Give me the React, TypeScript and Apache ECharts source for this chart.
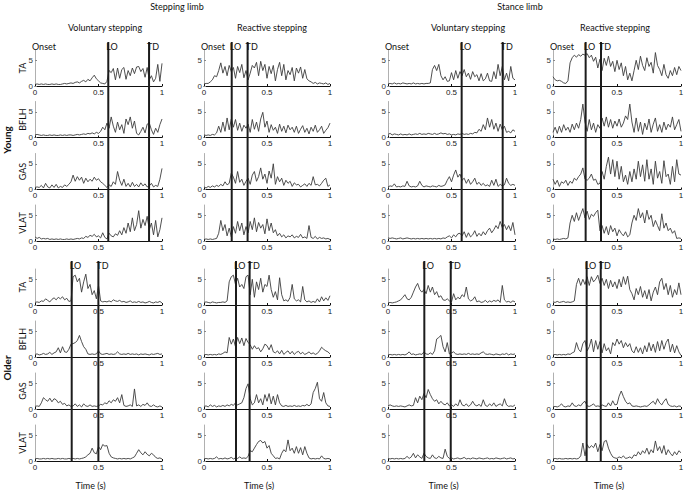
import React, { useEffect, useRef } from 'react';
import * as echarts from 'echarts';

// ---------- text ----------
const limbTitles = ['Stepping limb', 'Stance limb'];
const conditionTitles = ['Voluntary stepping', 'Reactive stepping', 'Voluntary stepping', 'Reactive stepping'];
const groupNames = ['Young', 'Older'];
const muscleNames = ['TA', 'BFLH', 'GAS', 'VLAT'];
const timeTicks = [0, 0.5, 1];
const emgTicks = [0, 5];
const timeLabel = 'Time (s)';

// sample times (s) for the 61 read-off points of every trace
const sampleTimes = Array.from({ length: 61 }, (_, i) => i / 60);

// ---------- Young, stepping limb, voluntary ----------
const youngVolStepTA = [0.3,0.4,0.3,0.4,0.3,0.4,0.3,0.3,0.4,0.3,0.4,0.3,0.3,0.4,0.5,0.4,0.5,0.6,0.5,0.7,0.8,0.6,0.9,1.1,0.8,1.3,1.0,1.6,2.1,1.4,1.0,0.6,0.5,0.4,0.9,3.0,2.6,3.4,1.2,3.5,1.5,3.2,3.6,1.3,3.0,2.0,3.5,2.4,3.7,3.8,2.8,3.4,1.7,3.6,1.2,2.0,0.8,1.5,4.2,0.9,4.4];
const youngVolStepBFLH = [0.5,0.6,0.5,0.4,0.5,0.4,0.4,0.5,0.4,0.5,0.4,0.4,0.5,0.4,0.5,0.4,0.5,0.5,0.4,0.5,0.6,0.5,0.6,0.7,0.6,0.8,0.7,0.9,0.7,1.0,0.8,1.2,2.0,1.5,2.8,1.8,4.0,2.2,1.0,3.0,1.5,2.5,0.8,3.6,2.5,4.0,1.8,3.2,0.8,0.5,1.2,2.0,0.9,2.6,2.8,1.5,0.6,1.8,1.0,2.5,3.6];
const youngVolStepGAS = [0.4,0.5,0.4,0.8,0.3,1.2,0.5,0.3,0.9,0.4,1.0,0.3,0.6,0.4,0.9,0.6,1.0,1.5,2.8,1.6,2.5,1.8,2.4,1.2,2.2,1.5,2.0,1.6,2.4,1.8,2.1,1.5,1.2,0.8,0.4,0.9,0.6,1.5,1.0,3.5,1.8,0.8,2.0,0.6,1.2,0.5,1.4,0.6,1.0,0.5,1.3,0.7,1.1,0.5,0.7,1.2,0.5,0.8,0.6,2.0,4.1];
const youngVolStepVLAT = [0.8,0.5,0.7,0.4,0.5,0.4,0.5,0.3,0.4,0.3,0.4,0.3,0.4,0.3,0.3,0.4,0.3,0.4,0.3,0.4,0.5,0.4,0.6,0.5,0.9,0.7,1.1,0.9,1.3,0.8,1.0,0.6,1.6,0.7,0.4,1.5,1.0,0.8,1.4,1.1,2.0,1.2,2.6,1.5,3.5,1.8,4.5,2.0,3.2,5.9,2.5,4.2,3.0,4.8,2.2,3.5,1.2,4.0,0.8,2.2,4.5];

// ---------- Young, stepping limb, reactive ----------
const youngReaStepTA = [0.4,0.5,0.5,0.8,1.2,2.0,1.8,3.0,4.5,2.5,3.8,2.0,4.0,2.8,3.6,1.5,3.8,2.6,4.2,1.6,3.0,1.2,2.5,4.0,3.5,4.6,2.0,4.8,3.0,4.2,1.5,3.8,2.4,4.0,1.0,3.2,4.6,2.0,4.2,1.2,3.0,2.2,3.6,1.0,3.5,2.5,3.7,1.5,3.2,1.4,1.0,0.8,0.5,0.7,0.4,0.6,0.5,0.4,0.6,0.3,0.5];
const youngReaStepBFLH = [0.5,0.4,0.5,0.4,0.6,0.5,0.9,2.2,1.0,3.0,1.2,3.8,1.5,3.6,2.0,3.5,1.4,2.8,1.2,2.4,1.8,2.6,1.0,3.5,1.6,3.0,1.2,3.6,4.9,2.0,3.2,1.0,2.5,1.4,2.0,0.8,2.6,1.2,2.2,0.9,2.4,1.5,2.0,1.0,2.2,0.8,1.6,2.3,1.0,1.8,0.7,2.0,1.2,2.4,1.0,1.5,2.2,0.8,1.4,1.9,2.8];
const youngReaStepGAS = [0.5,0.3,0.6,0.4,0.7,0.5,0.8,0.6,1.0,0.7,1.5,0.9,1.2,3.2,2.4,1.2,3.5,1.4,2.0,0.8,1.6,2.2,1.0,2.8,3.5,1.6,2.5,4.2,2.0,3.0,1.2,3.6,2.2,5.0,1.0,2.5,1.5,2.2,0.8,1.8,1.2,1.6,0.6,1.3,0.9,1.0,0.5,0.8,1.1,0.6,1.2,0.8,2.5,0.9,1.0,0.7,1.2,1.8,2.2,0.6,0.9];
const youngReaStepVLAT = [0.3,0.4,0.3,0.4,0.3,0.4,0.5,1.5,4.0,2.0,3.2,1.0,2.5,0.8,2.8,1.5,3.8,2.0,3.5,1.2,2.8,1.6,3.8,2.2,4.5,1.8,3.6,2.5,3.2,1.4,4.3,2.0,3.5,1.6,2.2,1.0,1.5,0.8,1.2,0.6,1.0,0.8,1.2,0.6,0.9,0.7,1.3,0.6,0.8,0.5,3.0,0.7,0.5,0.9,0.4,0.7,0.5,0.6,0.4,0.5,0.3];

// ---------- Young, stance limb, voluntary ----------
const youngVolStanceTA = [0.4,0.5,0.4,0.6,0.4,0.5,0.4,0.6,0.5,0.4,0.5,0.4,0.6,0.4,0.5,0.4,0.5,0.4,0.5,0.5,0.6,3.2,4.0,3.0,4.2,2.0,1.2,1.8,0.9,1.0,2.6,1.2,3.0,1.5,2.8,2.0,3.2,1.8,2.5,1.3,2.8,1.8,2.2,1.0,2.4,1.0,1.4,2.5,1.0,0.9,2.8,1.4,4.2,2.0,3.8,1.2,2.5,1.0,3.8,1.5,1.2];
const youngVolStanceBFLH = [0.6,0.8,0.5,0.7,0.6,0.5,0.7,0.5,0.6,0.5,0.7,0.5,0.6,0.7,0.6,0.8,0.6,0.7,0.6,0.8,0.7,0.6,0.8,0.6,0.7,0.9,0.7,0.8,0.6,0.7,0.5,0.6,0.5,0.7,0.6,0.8,0.6,0.7,0.6,0.8,0.7,1.0,0.9,1.6,1.2,2.5,1.5,3.8,2.0,3.5,1.6,2.8,1.2,2.6,1.5,2.2,1.0,1.2,0.9,1.5,1.2];
const youngVolStanceGAS = [0.5,0.7,0.6,1.1,0.5,0.6,0.5,0.7,0.6,1.6,0.7,0.5,0.6,0.5,0.7,1.6,0.8,0.5,0.7,0.6,0.5,0.7,0.6,0.5,0.8,0.6,0.7,0.9,1.8,2.5,1.5,2.8,3.8,2.4,3.0,1.8,2.2,1.2,2.0,1.0,1.5,2.2,1.0,1.4,0.8,1.2,0.7,0.9,0.6,1.8,0.8,2.0,0.6,1.0,0.7,0.9,2.2,1.2,0.8,1.0,0.8];
const youngVolStanceVLAT = [0.6,0.5,0.6,0.5,0.4,0.5,0.6,0.4,0.5,0.6,0.5,0.4,0.5,0.4,0.5,0.4,0.5,0.4,0.5,0.4,0.5,0.4,0.5,0.4,0.5,0.4,0.6,0.5,0.8,1.0,0.6,1.2,0.8,1.4,1.5,1.0,1.8,0.7,1.6,0.8,1.2,2.0,0.9,1.5,1.0,1.8,1.2,2.0,2.5,1.6,2.2,3.0,2.4,3.8,2.6,3.2,2.2,3.0,2.0,3.6,1.2];

// ---------- Young, stance limb, reactive ----------
const youngReaStanceTA = [1.8,1.2,1.0,1.1,0.9,0.6,0.5,1.0,4.5,5.5,6.0,5.6,6.1,5.8,6.2,6.0,6.3,5.5,6.0,4.8,5.6,3.5,5.2,3.0,5.4,4.0,5.8,3.8,4.8,2.8,5.0,3.2,4.5,2.0,3.8,1.2,2.5,1.0,3.0,5.0,3.2,5.8,4.0,3.0,5.5,3.8,4.6,2.5,6.5,4.0,3.2,2.0,4.2,2.2,1.5,3.0,2.0,3.6,2.2,3.8,3.0];
const youngReaStanceBFLH = [1.0,2.0,0.8,2.2,1.0,2.5,1.4,2.0,1.0,2.6,1.5,2.8,1.8,3.5,6.5,3.0,1.2,3.5,1.5,2.8,1.0,2.5,1.8,3.8,2.2,4.0,2.0,3.5,1.8,3.2,2.2,3.6,2.0,2.8,4.2,3.5,6.5,3.0,1.0,3.8,1.2,3.0,0.6,2.8,1.5,3.6,1.0,2.6,3.8,1.2,2.5,1.0,3.0,1.5,2.6,2.0,4.0,1.5,2.5,3.5,1.2];
const youngReaStanceGAS = [2.0,1.0,1.8,0.6,1.5,1.2,1.8,0.8,1.6,1.2,2.2,1.8,2.5,3.0,4.2,2.0,1.8,2.2,3.0,1.8,2.0,1.0,1.2,3.5,2.0,4.5,6.3,3.0,5.8,2.5,5.5,2.0,4.5,1.5,2.8,1.0,3.5,1.5,4.0,2.0,5.5,2.5,4.8,1.6,5.8,2.0,4.0,1.0,5.5,2.2,3.5,1.2,5.6,2.5,3.0,1.0,4.5,1.5,5.8,3.0,2.8];
const youngReaStanceVLAT = [0.4,0.3,0.4,0.3,0.4,0.5,0.4,0.6,3.5,5.0,3.8,5.5,4.0,5.2,6.3,4.5,5.8,4.2,5.2,4.8,5.5,6.0,2.0,3.0,1.5,2.8,1.2,3.0,1.8,2.5,1.0,2.2,1.5,1.0,1.8,0.8,1.2,3.5,5.0,4.0,6.3,4.5,5.5,3.5,6.0,4.2,5.0,2.8,4.0,3.0,2.0,5.3,2.5,3.5,2.0,2.5,1.5,2.0,0.5,0.6,0.5];

// ---------- Older, stepping limb, voluntary ----------
const olderVolStepTA = [0.5,0.6,0.5,0.8,0.7,1.2,0.9,0.6,1.1,1.4,1.0,1.5,1.2,1.6,1.0,1.3,0.7,0.8,5.5,5.8,4.5,5.2,2.5,4.5,6.0,3.2,4.0,2.0,2.8,1.2,3.8,0.8,0.6,0.7,0.6,0.8,0.6,1.0,0.8,0.7,0.9,0.6,0.7,0.5,0.6,0.8,0.5,0.6,0.5,0.7,0.5,0.6,0.4,0.5,0.7,0.5,0.4,0.6,0.5,0.7,0.4];
const olderVolStepBFLH = [0.5,0.6,0.4,0.5,0.7,0.5,0.6,0.9,0.5,0.8,1.0,1.8,0.8,2.0,1.0,0.9,1.5,2.5,2.6,2.8,3.2,4.2,3.0,2.0,1.5,0.6,0.5,0.6,0.5,0.6,1.2,0.6,0.5,0.6,0.7,0.5,0.6,0.5,0.6,1.0,0.6,0.5,0.6,0.5,0.7,0.5,0.6,0.5,0.6,0.4,0.6,0.5,0.6,0.5,0.4,0.6,0.5,0.6,0.7,0.5,0.6];
const olderVolStepGAS = [0.5,0.6,0.5,1.2,2.2,1.8,1.5,2.1,1.4,2.0,1.8,1.2,1.5,0.9,1.1,0.6,0.8,0.5,0.6,1.0,0.5,0.8,0.4,1.0,0.6,0.5,0.8,0.5,0.6,0.5,0.6,0.9,0.8,1.2,1.0,1.6,1.2,1.8,1.5,2.2,1.2,2.8,0.7,0.5,0.6,0.8,0.5,3.9,0.6,0.8,0.5,0.9,0.7,1.2,0.6,0.5,0.8,0.5,0.4,0.6,0.4];
const olderVolStepVLAT = [0.4,0.5,0.4,0.4,0.5,0.4,0.5,0.4,0.5,0.4,0.4,0.5,0.4,0.5,0.4,0.4,0.5,0.4,0.5,0.4,0.5,0.4,0.5,0.6,0.8,1.2,1.5,2.5,1.6,1.4,2.8,2.2,3.2,2.9,3.0,1.5,0.8,0.6,0.5,0.4,0.5,0.4,0.5,0.4,0.5,0.4,0.6,0.8,1.5,2.2,1.6,1.2,1.8,1.3,1.0,1.5,1.2,0.7,0.5,0.6,0.4];

// ---------- Older, stepping limb, reactive ----------
const olderReaStepTA = [0.5,0.6,0.5,0.4,0.6,0.5,0.4,0.5,0.5,0.6,0.5,0.8,4.5,5.5,5.8,4.0,5.2,3.5,4.0,3.2,5.5,5.8,2.0,5.0,1.5,4.5,3.0,5.2,2.5,4.0,3.6,5.8,3.0,1.5,2.6,1.0,5.3,2.0,0.8,1.0,0.7,1.5,4.0,1.2,0.8,1.0,0.6,3.6,1.0,0.6,0.8,0.5,0.7,0.5,1.2,0.6,1.6,0.8,1.4,0.9,1.8];
const olderReaStepBFLH = [0.4,0.5,0.4,0.5,0.4,0.5,0.4,0.6,0.5,0.7,1.0,0.8,3.8,2.5,3.5,2.0,3.8,2.6,3.7,2.2,3.6,2.8,2.4,1.5,2.2,1.6,1.8,1.0,1.6,2.5,2.2,1.4,2.4,1.0,0.8,1.2,0.6,1.3,0.5,0.9,1.2,0.6,1.1,0.5,0.9,1.1,0.6,0.9,0.5,0.7,1.0,0.6,0.8,0.5,0.7,1.2,1.9,1.5,1.2,1.0,0.6];
const olderReaStepGAS = [0.5,0.6,0.4,0.8,0.5,0.7,0.4,0.6,0.5,0.7,0.5,0.8,0.6,0.9,0.7,1.2,0.8,1.0,1.2,2.2,4.0,4.9,2.0,0.8,1.2,2.8,1.2,2.0,0.8,2.8,1.5,3.0,1.0,2.5,0.8,2.8,1.2,0.6,0.5,0.7,0.5,0.6,0.5,0.7,0.5,0.6,0.5,0.7,0.6,0.9,0.6,1.0,3.2,4.0,5.2,2.0,1.5,3.2,1.2,0.6,0.5];
const olderReaStepVLAT = [0.4,0.5,0.4,0.5,0.4,0.5,0.8,0.4,0.5,0.4,0.6,0.4,0.5,0.7,0.4,0.6,0.5,0.8,0.5,0.6,0.5,0.9,2.0,1.8,2.5,3.2,3.8,4.0,3.5,3.8,2.5,3.0,1.5,1.0,0.5,0.6,0.4,1.5,2.2,1.8,4.1,2.0,2.5,1.5,2.8,1.5,2.6,1.2,2.8,1.5,0.6,0.4,0.5,0.4,0.5,0.4,1.0,0.5,0.4,0.5,0.4];

// ---------- Older, stance limb, voluntary ----------
const olderVolStanceTA = [0.4,0.5,0.4,0.5,0.6,0.8,1.0,1.5,2.0,1.2,1.0,1.5,2.5,3.5,4.2,3.0,2.5,3.0,2.2,3.8,2.5,3.5,2.0,2.6,1.5,1.8,1.0,0.9,1.2,0.8,0.6,2.2,1.0,1.5,1.2,2.0,1.6,3.5,1.2,0.8,1.0,1.6,0.6,0.8,0.5,0.6,0.9,0.5,0.8,0.6,0.9,0.7,1.0,0.5,3.8,1.0,0.6,0.7,0.5,0.8,0.6];
const olderVolStanceBFLH = [0.4,0.5,0.4,0.5,0.4,0.5,0.4,0.5,0.4,0.6,1.0,0.5,0.6,0.4,0.5,0.6,0.5,1.0,0.6,0.5,0.8,0.5,1.2,3.5,3.8,4.2,2.0,1.0,2.8,0.6,0.8,1.0,0.6,0.5,0.6,0.5,0.6,0.5,0.7,0.5,0.6,0.5,0.6,0.5,0.8,1.0,0.6,0.5,0.6,0.5,0.4,0.6,0.5,0.4,0.6,0.5,0.7,0.4,0.6,0.5,0.6];
const olderVolStanceGAS = [0.6,0.8,0.6,0.5,0.6,0.5,0.6,0.5,0.4,0.6,0.8,0.6,0.7,2.2,1.2,2.5,1.8,3.0,2.2,3.8,2.8,2.0,1.5,1.8,1.0,1.5,1.0,0.8,1.2,0.6,0.8,0.5,1.0,0.6,1.8,0.8,0.6,1.0,0.5,0.8,1.5,0.8,0.6,0.9,0.5,1.8,0.7,0.5,1.0,0.6,1.2,0.5,0.8,1.0,0.6,2.0,0.8,0.5,0.6,0.5,0.8];
const olderVolStanceVLAT = [0.5,0.4,0.5,0.4,0.5,0.4,0.5,0.4,0.5,0.9,0.5,0.8,1.5,0.6,1.2,0.8,0.5,1.5,0.9,0.6,0.5,1.2,0.6,0.5,0.9,0.6,0.5,2.3,0.9,0.5,0.6,0.4,0.5,0.6,0.4,0.5,0.7,0.4,0.5,0.4,0.6,0.5,0.4,0.6,0.5,0.4,0.5,0.6,0.4,0.5,0.4,0.6,0.5,0.4,0.5,0.6,0.4,0.5,0.6,0.4,0.5];

// ---------- Older, stance limb, reactive ----------
const olderReaStanceTA = [0.6,0.5,0.7,0.5,0.6,0.7,0.5,0.6,0.5,0.6,0.8,4.0,5.2,3.8,5.0,4.0,5.5,3.8,5.5,4.5,5.0,5.8,4.2,5.2,3.8,5.0,3.2,4.8,3.5,4.5,3.2,5.0,3.5,5.5,4.0,5.6,3.0,2.2,1.0,3.2,2.0,3.6,1.5,2.8,1.2,3.0,0.8,2.5,3.5,2.0,4.5,5.2,3.0,4.2,2.0,3.8,1.5,3.0,2.0,4.3,2.0];
const olderReaStanceBFLH = [0.4,0.5,0.4,0.5,0.4,0.5,0.4,0.6,0.5,0.8,1.0,2.8,1.5,1.0,2.6,3.2,1.2,2.0,3.5,1.0,3.2,1.5,3.0,0.8,2.6,1.2,1.8,0.6,2.8,2.2,3.5,2.5,3.2,1.8,2.8,2.0,2.6,1.2,0.8,2.0,0.9,1.8,0.6,2.2,1.0,2.8,1.2,2.5,0.9,3.0,1.2,3.2,1.5,2.8,3.5,1.0,2.5,0.8,2.2,1.0,0.3];
const olderReaStanceGAS = [0.4,0.5,0.4,0.6,1.0,0.5,0.4,0.6,0.5,1.2,0.6,0.5,0.8,0.6,1.2,1.5,0.6,0.5,0.7,1.0,0.5,0.6,0.5,0.8,0.6,0.5,1.2,0.6,1.6,0.8,0.9,2.5,3.5,2.4,1.5,1.0,1.2,0.6,0.5,0.6,0.5,0.4,0.5,0.6,0.5,0.8,1.2,1.5,0.9,2.0,1.2,0.8,1.5,2.0,0.9,0.6,0.5,0.6,0.4,0.6,0.5];
const olderReaStanceVLAT = [0.4,0.5,0.4,0.5,0.4,0.4,0.5,0.4,0.5,0.4,0.5,0.4,0.5,1.0,3.5,1.0,3.2,2.5,3.0,2.6,3.5,1.8,3.2,2.0,3.8,4.0,2.5,1.5,0.8,0.6,0.5,0.8,0.6,1.0,0.5,0.6,0.8,0.5,1.2,1.0,1.8,1.2,2.0,1.5,2.5,1.3,2.2,1.6,3.9,2.0,2.8,1.5,3.0,1.2,2.2,1.5,1.0,1.8,1.2,2.0,1.6];

// ---------- gait events (s): lift-off and touch-down, per column ----------
const youngLO = [0.577, 0.22, 0.58, 0.255];
const youngTD = [0.898, 0.346, 0.903, 0.375];
const olderLO = [0.289, 0.254, 0.286, 0.263];
const olderTD = [0.499, 0.362, 0.494, 0.373];

const panels = [
  [
    [youngVolStepTA, youngVolStepBFLH, youngVolStepGAS, youngVolStepVLAT],
    [youngReaStepTA, youngReaStepBFLH, youngReaStepGAS, youngReaStepVLAT],
    [youngVolStanceTA, youngVolStanceBFLH, youngVolStanceGAS, youngVolStanceVLAT],
    [youngReaStanceTA, youngReaStanceBFLH, youngReaStanceGAS, youngReaStanceVLAT],
  ],
  [
    [olderVolStepTA, olderVolStepBFLH, olderVolStepGAS, olderVolStepVLAT],
    [olderReaStepTA, olderReaStepBFLH, olderReaStepGAS, olderReaStepVLAT],
    [olderVolStanceTA, olderVolStanceBFLH, olderVolStanceGAS, olderVolStanceVLAT],
    [olderReaStanceTA, olderReaStanceBFLH, olderReaStanceGAS, olderReaStanceVLAT],
  ],
];
const eventLO = [youngLO, olderLO];
const eventTD = [youngTD, olderTD];

// ---------- layout ----------
const W = 685;
const H = 490;
const colLeft = [35, 204, 388, 553];
const colWidth = [127, 126, 127, 128];
const rowBottom = [
  [86, 137.5, 189.5, 241],
  [305, 357, 409, 461],
];
const plotH = 36;
const titleFont = 'Lato, "Open Sans", sans-serif';
const tickFont = '"Liberation Sans", Arial, sans-serif';

export default function App() {
  const ref = useRef<HTMLDivElement>(null);

  useEffect(() => {
    document.body.style.margin = '0';
    const el = ref.current;
    if (!el) return;
    const chart = echarts.init(el, null, { renderer: 'svg' });

    const grids: any[] = [];
    const xAxes: any[] = [];
    const yAxes: any[] = [];
    const series: any[] = [];
    const gridIndex = (g: number, c: number, r: number) => g * 16 + c * 4 + r;

    for (let g = 0; g < 2; g++) {
      for (let c = 0; c < 4; c++) {
        for (let r = 0; r < 4; r++) {
          const idx = gridIndex(g, c, r);
          grids.push({
            left: colLeft[c],
            top: rowBottom[g][r] - plotH,
            width: colWidth[c],
            height: plotH,
            containLabel: false,
            outerBoundsMode: 'none',
          });
          xAxes.push({
            type: 'value',
            gridIndex: idx,
            min: 0,
            max: 1,
            interval: 0.5,
            axisLine: { show: true, onZero: false, lineStyle: { color: '#111', width: 1 } },
            axisTick: { show: true, inside: true, length: 2, lineStyle: { color: '#111' } },
            axisLabel: {
              show: true,
              fontSize: 8,
              margin: 2,
              color: '#222',
              fontFamily: tickFont,
              customValues: timeTicks,
              formatter: (v: number) => String(v),
            },
            splitLine: { show: false },
          });
          yAxes.push({
            type: 'value',
            gridIndex: idx,
            min: 0,
            max: 7,
            interval: 5,
            axisLine: { show: true, lineStyle: { color: '#b0b0b0', width: 1 } },
            axisTick: {
              show: true,
              inside: true,
              length: 2,
              lineStyle: { color: '#888' },
              customValues: emgTicks,
            },
            axisLabel: {
              show: true,
              fontSize: 8,
              margin: 2,
              color: '#333',
              fontFamily: tickFont,
              customValues: emgTicks,
            },
            splitLine: { show: false },
          });
          const values = panels[g][c][r];
          series.push({
            type: 'line',
            xAxisIndex: idx,
            yAxisIndex: idx,
            data: values.map((v, i) => [sampleTimes[i], v]),
            showSymbol: false,
            symbol: 'none',
            silent: true,
            lineStyle: { width: 0.9, color: '#3c3c3c' },
            z: 2,
          });
        }
      }
    }

    chart.setOption({
      animation: false,
      backgroundColor: '#fff',
      grid: grids,
      xAxis: xAxes,
      yAxis: yAxes,
      series,
    });

    const graphics: any[] = [];
    const text = (t: string, x: number, y: number, opts: any = {}) => ({
      type: 'text',
      x,
      y,
      rotation: opts.rotation || 0,
      z: 10,
      style: {
        text: t,
        fontSize: opts.fontSize || 9,
        fontFamily: opts.fontFamily || titleFont,
        fontWeight: opts.fontWeight || 'normal',
        fill: opts.fill || '#111',
        align: opts.align || 'center',
        verticalAlign: opts.verticalAlign || 'middle',
      },
    });

    // limb titles and condition titles
    graphics.push(text(limbTitles[0], 177, 6));
    graphics.push(text(limbTitles[1], 520, 6));
    const condX = [105, 272, 468, 615];
    conditionTitles.forEach((t, c) => graphics.push(text(t, condX[c], 27)));

    // group labels
    graphics.push(text(groupNames[0], 7, 140, { rotation: Math.PI / 2, fontWeight: 'bold', fontSize: 10 }));
    graphics.push(text(groupNames[1], 7, 368, { rotation: Math.PI / 2, fontWeight: 'bold', fontSize: 10 }));

    for (let g = 0; g < 2; g++) {
      // muscle labels (first column only)
      for (let r = 0; r < 4; r++) {
        const yc = rowBottom[g][r] - plotH / 2;
        graphics.push(text(muscleNames[r], 22, yc, { rotation: Math.PI / 2, fontSize: 9 }));
      }
      for (let c = 0; c < 4; c++) {
        const topIdx = gridIndex(g, c, 0);
        const botIdx = gridIndex(g, c, 3);
        const topY = chart.convertToPixel({ gridIndex: topIdx } as any, [0, 7]) as number[];
        const lineTop = topY[1] - 8;
        if (g === 0) {
          graphics.push(text('Onset', topY[0] - 3, lineTop, { align: 'left', verticalAlign: 'top', fontSize: 9 }));
        }
        const evs: [string, number][] = [
          ['LO', eventLO[g][c]],
          ['TD', eventTD[g][c]],
        ];
        evs.forEach(([name, t]) => {
          const p = chart.convertToPixel({ gridIndex: topIdx } as any, [t, 7]) as number[];
          const b = chart.convertToPixel({ gridIndex: botIdx } as any, [t, 0]) as number[];
          graphics.push({
            type: 'line',
            z: 9,
            shape: { x1: p[0], y1: lineTop, x2: p[0], y2: b[1] + 1 },
            style: { stroke: '#1c1c1c', lineWidth: 2 },
          });
          graphics.push(text(name, p[0] - 2, lineTop, { align: 'left', verticalAlign: 'top', fontSize: 9 }));
        });
        if (g === 1) {
          const xc = chart.convertToPixel({ gridIndex: botIdx } as any, [0.5, 0]) as number[];
          graphics.push(text(timeLabel, xc[0] - 8, 485, { fontSize: 9 }));
        }
      }
    }

    chart.setOption({ graphic: graphics });

    return () => {
      chart.dispose();
    };
  }, []);

  return <div ref={ref} style={{ width: W, height: H }} />;
}
